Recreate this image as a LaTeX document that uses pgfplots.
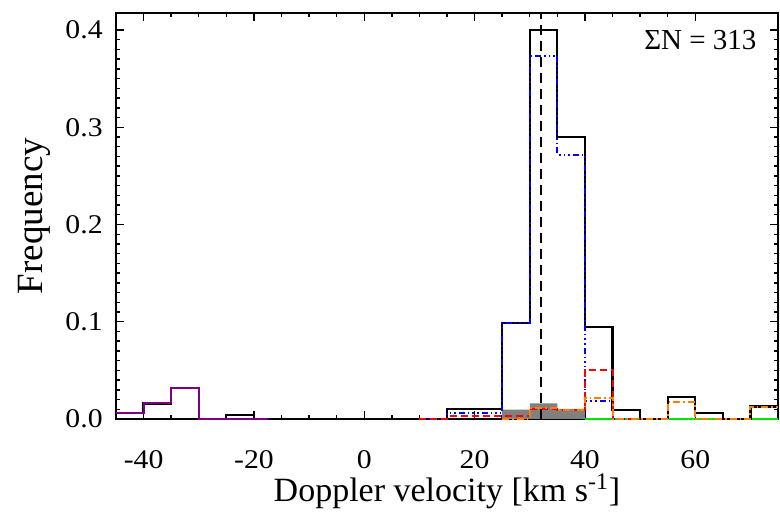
\documentclass[border=0pt]{standalone}
\usepackage{fontspec}
\setmainfont{Liberation Serif}
\newfontfamily\tickfont{Liberation Serif}[FakeStretch=1.1]
\usepackage{pgfplots}
\pgfplotsset{compat=1.18}
\usetikzlibrary{calc}
\definecolor{myorange}{RGB}{255,128,0}
\definecolor{mypurple}{RGB}{128,0,128}
\definecolor{mygreen}{RGB}{0,230,0}
\definecolor{mygray}{RGB}{128,128,128}
\begin{document}
\begin{tikzpicture}
\begin{axis}[
  scale only axis,
  clip=false,
  width=331pt, height=203pt,
  xmin=-45, xmax=75, ymin=0, ymax=0.4175,
  xtick={-40,-20,0,20,40,60},
  minor x tick num=3,
  ytick={0,0.1,0.2,0.3,0.4},
  minor y tick num=9,
  tick align=inside,
  major tick length=4pt, minor tick length=2pt,
  every tick/.style={black, line width=0.7pt},
  axis line style={line width=1pt},
  /pgf/number format/assume math mode=true,
  yticklabel style={/pgf/number format/fixed, /pgf/number format/fixed zerofill, /pgf/number format/precision=1},
  every x tick label/.append style={font=\tickfont\fontsize{13.5}{16}\selectfont, inner sep=0pt},
  every y tick label/.append style={font=\tickfont\fontsize{13.5}{16}\selectfont, inner sep=0pt},
  xticklabel shift=15.5pt,
  yticklabel shift=6.5pt,
  const plot mark left,
]
% gray filled histogram
\addplot[fill=mygray, draw=none] coordinates {(25,0.0096) (30,0.016) (35,0.0105) (40,0.0105)} \closedcycle;
% green
\addplot[mygreen, line width=1.2pt] coordinates {(40,0) (75,0)};
% black total
\addplot[black, line width=1.1pt] coordinates {
(-45,0.0064) (-40,0.016) (-35,0.032) (-30,0) (-25,0.0040) (-20,0) (15,0.0105) (20,0.0105)
(25,0.099) (30,0.400) (35,0.2896) (40,0.0942) (45,0.0096) (50,0) (55,0.0230) (60,0.0064)
(65,0) (70,0.0128) (75,0.0128)};
% blue
\addplot[blue, line width=1pt, dash pattern=on 3pt off 1.5pt on 0.8pt off 1.5pt on 0.8pt off 1.5pt on 0.8pt off 1.5pt] coordinates {
(10,0) (15,0.0064) (20,0.0064) (25,0.099) (30,0.3736) (35,0.2718) (40,0.0180) (45,0) (50,0)};
% red
\addplot[red, line width=1pt, dash pattern=on 3.5pt off 2pt] coordinates {
(10,0) (15,0.0030) (20,0.0030) (25,0.0030) (30,0.0105) (35,0.0096) (40,0.0500) (45,0) (50,0)};
% orange
\addplot[myorange, line width=1pt, dash pattern=on 3.5pt off 1.5pt on 0.8pt off 1.5pt] coordinates {
(25,0) (30,0.0112) (35,0.0096) (40,0.0220) (45,0) (50,0) (55,0.0170) (60,0) (65,0) (70,0.0128) (75,0.0128)};
% purple
\addplot[mypurple, line width=1pt] coordinates {
(-45,0.0064) (-40,0.016) (-35,0.032) (-30,0) (-25,0) (-20,0) (-17.5,0)};
% vertical dashed line
\addplot[black, line width=1pt, dash pattern=on 5pt off 3pt, sharp plot] coordinates {(32,0) (32,0.4175)};
\node[anchor=north east, inner sep=0pt, font=\fontsize{14.5}{17}\selectfont] at (axis description cs:0.968,0.958) {ΣN = 313};
\node[anchor=base, inner sep=0pt, font=\fontsize{17}{19}\selectfont] at (axis description cs:0.5,-0.204) {Doppler velocity [km s\textsuperscript{-1}]};
\node[anchor=center, rotate=90, inner sep=0pt, font=\fontsize{18.5}{20}\selectfont] at (axis description cs:-0.124,0.5) {Frequency};
\end{axis}
\path (current axis.south west) ++(-58pt,-48.5pt) rectangle ($(current axis.north east)+(1pt,6.5pt)$);
\end{tikzpicture}
\end{document}
